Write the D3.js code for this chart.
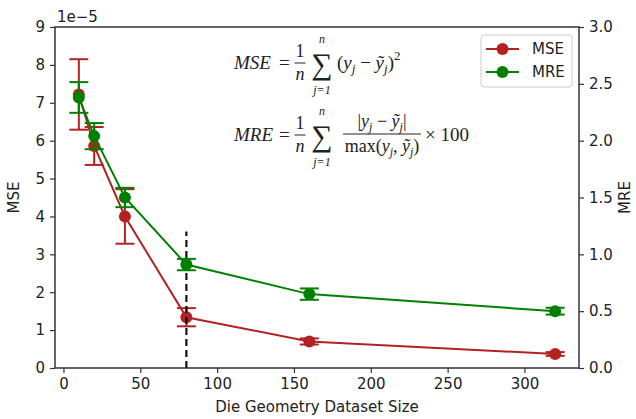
<!DOCTYPE html>
<meta charset="utf-8">
<html>
<head>
<script src="https://d3js.org/d3.v7.min.js"></script>
<style>
  body { margin: 0; background: #fff; }
  text { font-family: "DejaVu Sans", sans-serif; fill: #222; }
  .eq text { font-family: "Liberation Serif", "DejaVu Serif", serif; }
</style>
</head>
<body>
<svg width="636" height="419"></svg>
<script>
// data (MSE in units of 1e-5, MRE in %)
var sizes = [10, 20, 40, 80, 160, 320];
var mse = [7.22, 5.86, 4.0, 1.34, 0.70, 0.37];
var mseErr = [0.93, 0.50, 0.72, 0.24, 0.08, 0.05];
var mre = [2.38, 2.04, 1.50, 0.91, 0.65, 0.50];
var mreErr = [0.135, 0.115, 0.085, 0.05, 0.05, 0.03];
var xTicks = [0, 50, 100, 150, 200, 250, 300];
var leftTicks = [0, 1, 2, 3, 4, 5, 6, 7, 8, 9];
var rightTicks = [0, 0.5, 1.0, 1.5, 2.0, 2.5, 3.0];
var cutoff = 80, cutoffTop = 3.6;

var svg = d3.select("svg");
var L = 55, R = 579, T = 27, B = 368;

var x = d3.scaleLinear().domain([-5.5, 335.5]).range([L, R]);
var yL = d3.scaleLinear().domain([0, 9]).range([B, T]);
var yR = d3.scaleLinear().domain([0, 3]).range([B, T]);

var red = "#b22222", green = "#008000";

// axes
function styleAxis(g) {
    g.select(".domain").remove();
    g.selectAll(".tick line").attr("stroke", "#333").attr("stroke-width", 1.2);
    g.selectAll(".tick text").style("font-size", "15px").attr("fill", "#222");
}
svg.append("g").attr("transform", "translate(0," + B + ")")
    .call(d3.axisBottom(x).tickValues(xTicks).tickSize(5).tickPadding(5).tickFormat(d3.format("d")))
    .call(styleAxis);
svg.append("g").attr("transform", "translate(" + L + ",0)")
    .call(d3.axisLeft(yL).tickValues(leftTicks).tickSize(5).tickPadding(5).tickFormat(d3.format("d")))
    .call(styleAxis);
svg.append("g").attr("transform", "translate(" + R + ",0)")
    .call(d3.axisRight(yR).tickValues(rightTicks).tickSize(5).tickPadding(5).tickFormat(d3.format(".1f")))
    .call(styleAxis);

// frame
svg.append("rect").attr("x", L).attr("y", T).attr("width", R - L).attr("height", B - T)
    .attr("fill", "none").attr("stroke", "#333").attr("stroke-width", 1.5);

// labels
svg.append("text").attr("x", 57).attr("y", 22).style("font-size", "15px").text("1e\u22125");
svg.append("text").attr("transform", "translate(19," + (T + B) / 2 + ") rotate(-90)")
    .attr("text-anchor", "middle").style("font-size", "15px").text("MSE");
svg.append("text").attr("transform", "translate(630," + (T + B) / 2 + ") rotate(-90)")
    .attr("text-anchor", "middle").style("font-size", "15px").text("MRE");
svg.append("text").attr("x", (L + R) / 2).attr("y", 412)
    .attr("text-anchor", "middle").style("font-size", "15px").text("Die Geometry Dataset Size");

// series
function drawSeries(vals, errs, y, color) {
    var g = svg.append("g");
    var line = d3.line().x(function (d, i) { return x(sizes[i]); }).y(function (d) { return y(d); });
    g.append("path").datum(vals).attr("d", line)
        .attr("fill", "none").attr("stroke", color).attr("stroke-width", 2);
    var cap = 9.5;
    vals.forEach(function (v, i) {
        var cx = x(sizes[i]), y1 = y(v - errs[i]), y2 = y(v + errs[i]);
        g.append("line").attr("x1", cx).attr("x2", cx).attr("y1", y1).attr("y2", y2)
            .attr("stroke", color).attr("stroke-width", 2);
        [y1, y2].forEach(function (yy) {
            g.append("line").attr("x1", cx - cap).attr("x2", cx + cap).attr("y1", yy).attr("y2", yy)
                .attr("stroke", color).attr("stroke-width", 2);
        });
        g.append("circle").attr("cx", cx).attr("cy", y(v)).attr("r", 6).attr("fill", color);
    });
}
drawSeries(mse, mseErr, yL, red);

// cutoff marker
svg.append("line").attr("x1", x(cutoff)).attr("x2", x(cutoff))
    .attr("y1", yL(0)).attr("y2", yL(cutoffTop))
    .attr("stroke", "#111").attr("stroke-width", 2.2).attr("stroke-dasharray", "7,4");

drawSeries(mre, mreErr, yR, green);

// equations
var eq = svg.append("g").attr("class", "eq");
function t(px, py, s, size, italic, anchor) {
    return eq.append("text").attr("x", px).attr("y", py).text(s)
        .style("font-size", size + "px").style("font-style", italic ? "italic" : "normal")
        .attr("text-anchor", anchor || "start");
}
function frac(cx, yLine, w) {
    eq.append("line").attr("x1", cx - w / 2).attr("x2", cx + w / 2).attr("y1", yLine).attr("y2", yLine)
        .attr("stroke", "#222").attr("stroke-width", 1);
}
function sub(el, base, s, italic, small) {
    el.append("tspan").style("font-style", italic ? "italic" : "normal").text(base);
    el.append("tspan").style("font-style", "italic").style("font-size", small + "px").attr("dy", 4).text(s);
}
// MSE
t(234, 69, "MSE", 19, true);
t(279, 69, "=", 19, false);
t(300, 57, "1", 18, false, "middle"); frac(300, 63, 11); t(300, 80, "n", 18, true, "middle");
t(322, 74, "\u2211", 30, false, "middle");
t(322, 43, "n", 12, true, "middle");
t(322, 94, "j=1", 12, true, "middle");
var m1 = t(337, 69, "", 19, false);
m1.append("tspan").text("(");
sub(m1, "y", "j", true, 13);
m1.append("tspan").attr("dy", -4).text(" \u2212 ");
sub(m1, "\u1ef9", "j", true, 13);
m1.append("tspan").attr("dy", -4).text(")");
m1.append("tspan").style("font-size", "13px").attr("dy", -9).text("2");

// MRE
t(234, 141, "MRE", 19, true);
t(279, 141, "=", 19, false);
t(300, 129, "1", 18, false, "middle"); frac(300, 135, 11); t(300, 152, "n", 18, true, "middle");
t(322, 146, "\u2211", 30, false, "middle");
t(322, 115, "n", 12, true, "middle");
t(322, 166, "j=1", 12, true, "middle");
var nm = t(382, 127, "", 18, false, "middle");
nm.append("tspan").text("|");
sub(nm, "y", "j", true, 12);
nm.append("tspan").attr("dy", -4).text(" \u2212 ");
sub(nm, "\u1ef9", "j", true, 12);
nm.append("tspan").attr("dy", -4).text("|");
frac(382, 134, 78);
var dn = t(382, 152, "", 18, false, "middle");
dn.append("tspan").text("max(");
sub(dn, "y", "j", true, 12);
dn.append("tspan").attr("dy", -4).text(", ");
sub(dn, "\u1ef9", "j", true, 12);
dn.append("tspan").attr("dy", -4).text(")");
t(425, 141, "\u00d7 100", 19, false);

// legend
var lg = svg.append("g").attr("transform", "translate(481,35)");
lg.append("rect").attr("width", 91).attr("height", 52).attr("rx", 3)
    .attr("fill", "#fff").attr("stroke", "#ccc").attr("stroke-width", 1);
[["MSE", red], ["MRE", green]].forEach(function (d, i) {
    var yy = 14 + i * 23;
    lg.append("line").attr("x1", 5).attr("x2", 38).attr("y1", yy).attr("y2", yy)
        .attr("stroke", d[1]).attr("stroke-width", 2);
    lg.append("circle").attr("cx", 21.5).attr("cy", yy).attr("r", 6).attr("fill", d[1]);
    lg.append("text").attr("x", 51).attr("y", yy + 5).style("font-size", "15px").text(d[0]);
});
</script>
</body>
</html>
